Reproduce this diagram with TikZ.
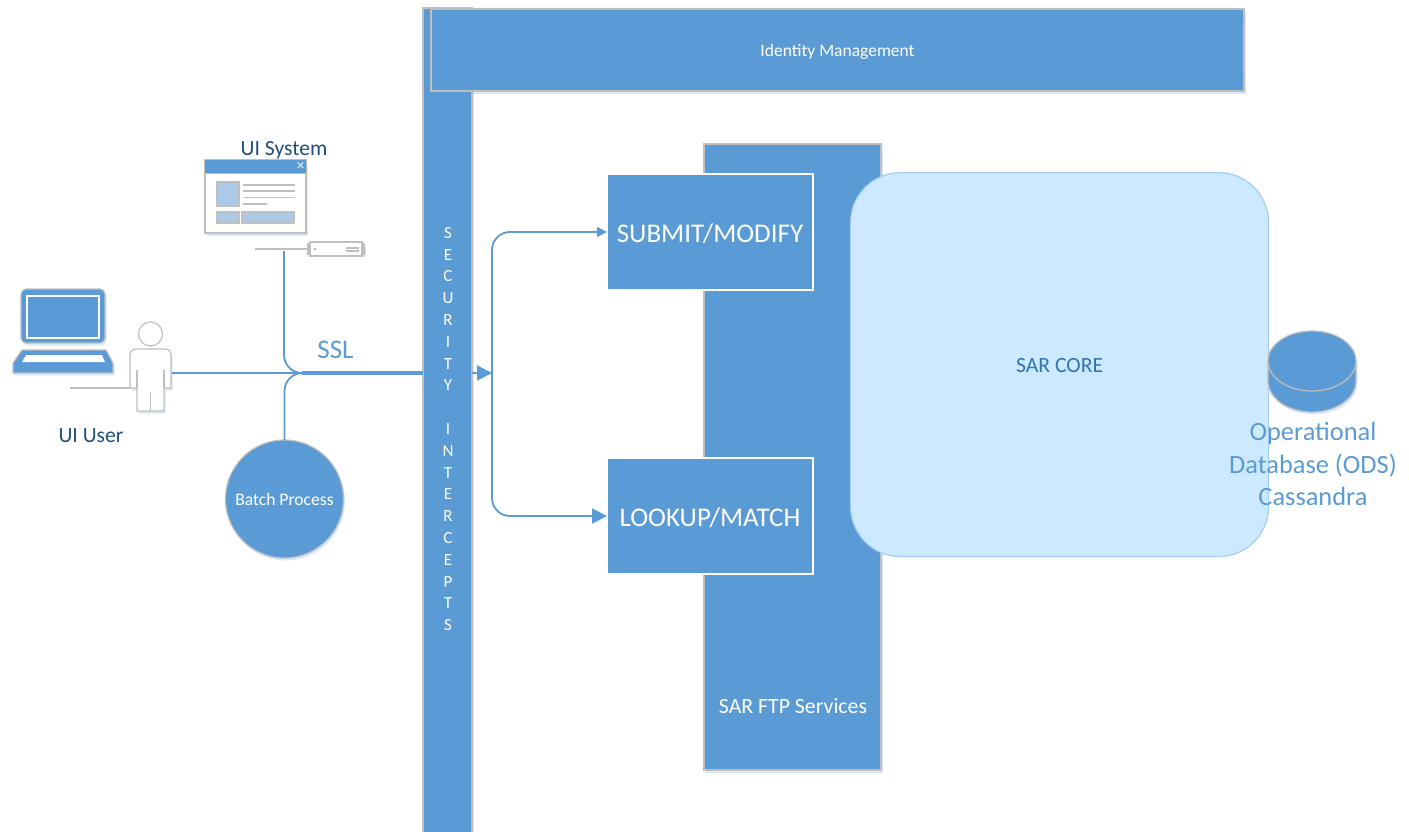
\documentclass[tikz,border=0pt]{standalone}
\usepackage{fontspec}
\setmainfont{Carlito}
\usetikzlibrary{arrows.meta,shadows}
\definecolor{barblue}{HTML}{5B9BD5}
\definecolor{edgegray}{HTML}{BFBFBF}
\definecolor{paleblue}{HTML}{ABCAE8}
\definecolor{corefill}{HTML}{CCE9FF}
\definecolor{coreedge}{HTML}{A3CDF5}
\definecolor{navytext}{HTML}{1F4E79}
\definecolor{coretext}{HTML}{2E75B6}
\newcommand\fsize[2]{\fontsize{#1}{#2}\selectfont}
\newcommand\lowered[2]{\raisebox{-#1}[\height][\depth]{#2}}
\tikzset{
  softshadow/.style={drop shadow={opacity=.22,shadow xshift=1.5pt,shadow yshift=-2.5pt,fill=barblue}},
  bar/.style={draw=edgegray,line width=1.2pt,fill=barblue,text=white,inner sep=0pt,outer sep=0pt,softshadow},
  service/.style={draw=white,line width=1.2pt,fill=barblue,text=white,inner sep=0pt,outer sep=0pt,font=\fsize{27}{30},minimum width=206pt,minimum height=116pt},
  link/.style={draw=barblue,line width=1.8pt},
  linkarrow/.style={link,-{Triangle[length=#1,width=#1]}},
  icon/.style={draw=edgegray,line width=1.2pt},
  caption/.style={inner sep=0pt,text=navytext,font=\fsize{21.6}{24}},
}
\begin{document}
\begin{tikzpicture}[x=1pt,y=-1pt]
\useasboundingbox (0,0) rectangle (1409,831);
% security bar and top band
\node (security) [bar,anchor=north west,minimum width=49pt,minimum height=825pt] at (423,8) {};
\node (intercepts) [text=white,inner sep=0pt,align=center,anchor=north,font=\fsize{17}{21.8}] at (448,227) {S\\E\\C\\U\\R\\I\\T\\Y\\~\\I\\N\\T\\E\\R\\C\\E\\P\\T\\S};
\node (identity) [bar,anchor=north west,minimum width=813pt,minimum height=82pt,font=\fsize{17.5}{20}] at (431,9) {\lowered{2pt}{Identity Management}};
% services
\node (ftp) [bar,anchor=north west,minimum width=177pt,minimum height=626pt] at (704,144) {};
\node (ftplabel) [text=white,inner sep=0pt,font=\fsize{21.8}{24}] at (793,706) {SAR FTP Services};
\node (submit) [service,anchor=north west] at (607,174) {\lowered{1.5pt}{SUBMIT/MODIFY}};
\node (lookup) [service,anchor=north west] at (607,458) {\lowered{2pt}{LOOKUP/MATCH}};
\node (core) [draw=coreedge,line width=1.2pt,fill=corefill,rounded corners=50pt,anchor=north west,minimum width=418pt,minimum height=384pt,inner sep=0pt,text=coretext,font=\fsize{21.7}{24}] at (850,172) {\lowered{1pt}{SAR CORE}};
% database
\fill [barblue,softshadow] (1268,361) -- (1268,381) arc (180:0:44 and 31) -- (1356,361) -- cycle;
\draw [edgegray,line width=1.2pt] (1268,361) -- (1268,381) arc (180:0:44 and 31) -- (1356,361);
\draw [edgegray,line width=1.2pt,fill=barblue] (1312,361) ellipse (44 and 30);
\node (ods) [inner sep=0pt,text=barblue,align=center,anchor=north,font=\fsize{26.4}{32.5}] at (1313,422) {Operational\\Database (ODS)\\Cassandra};
% batch
\node (batch) [bar,circle,minimum size=118pt,font=\fsize{17.6}{20}] at (284.5,499) {Batch Process};
% ui system window
\draw [icon,fill=white,softshadow] (205,160) rectangle (306,233);
\fill [barblue] (205,160) rectangle (306,173);
\draw [icon] (205,173.5) -- (306,173.5);
\node (closebox) [text=white,inner sep=0pt,font=\fsize{15}{15}] at (300.5,167) {×};
\draw [icon,fill=paleblue] (217,182) rectangle (239,206);
\draw [icon,fill=paleblue] (217,212) rectangle (239,223);
\draw [icon,fill=paleblue] (242,212) rectangle (294,223);
\foreach \y in {185,191,197.5} \draw [icon] (243,\y) -- (295,\y);
\draw [icon] (243,204) -- (267,204);
\node (uisystem) [caption] at (284,150) {UI System};
% server
\draw [icon,fill=white,softshadow] (308,244) rectangle (364,254);
\draw [icon,fill=white] (310,242) rectangle (362,256);
\draw [icon] (255,249) -- (308,249);
\fill [edgegray] (315,249) circle (1.6);
\draw [icon] (346,248) -- (359,248) (346,251) -- (359,251);
% laptop
\draw [icon,fill=barblue,rounded corners=5pt,softshadow] (21,343) -- (21,289) -- (105,289) -- (105,343) -- cycle;
\draw [white,line width=1.2pt] (27,296) rectangle (99,338);
\draw [icon,fill=barblue,softshadow] (13,373) -- (113,373) -- (113,363) -- (106,350) -- (22,350) -- (13,363) -- cycle;
\fill [white] (22,362) -- (105,362) -- (102,355) -- (26,355) -- cycle;
% user
\draw [icon] (70,388) -- (130,388);
\draw [icon,fill=white,softshadow] (137,388) -- (130,388) -- (130,354) arc (180:270:5) -- (166,349) arc (270:360:5) -- (171,388) -- (164,388) -- (164,411) -- (137,411) -- cycle;
\draw [icon] (137,370) -- (137,388) (164,370) -- (164,388) (150.5,392) -- (150.5,411);
\draw [icon,fill=white] (150.5,334) circle (12);
\node (uiuser) [caption] at (91,436) {UI User};
% connectors
\coordinate (userport) at (172,373);
\coordinate (servertap) at (284,251);
\coordinate (join) at (340,373);
\coordinate (fan) at (492,373);
\draw [link] (userport) -- (join);
\draw [link,rounded corners=18pt] (servertap) |- (join);
\draw [link,rounded corners=18pt] (batch.north) |- (join);
\draw [draw=barblue,line width=3.5pt] (302,373) -- (join -| security.west);
\draw [linkarrow=15pt] (security.east |- join) -- (fan);
\draw [linkarrow=10pt,rounded corners=18pt] (fan) |- (submit.west);
\draw [linkarrow=15pt,rounded corners=18pt] (fan) |- (lookup.west);
\node (ssl) [inner sep=0pt,text=barblue,font=\fsize{27}{30}] at (335.5,350) {SSL};
\end{tikzpicture}
\end{document}
